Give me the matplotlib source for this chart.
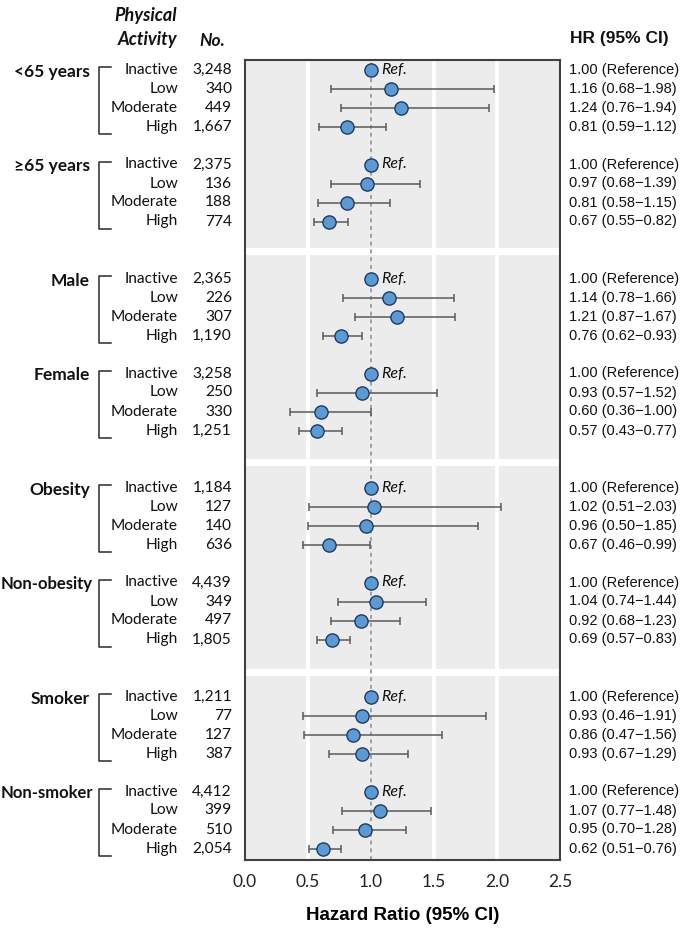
import matplotlib
matplotlib.use("Agg")
import matplotlib.pyplot as plt
from matplotlib.transforms import blended_transform_factory

# ---------------- data ----------------
groups = ["<65 years", "\u226565 years", "Male", "Female",
          "Obesity", "Non-obesity", "Smoker", "Non-smoker"]
levels = ["Inactive", "Low", "Moderate", "High"]
counts = [
    ["3,248", "340", "449", "1,667"],
    ["2,375", "136", "188", "774"],
    ["2,365", "226", "307", "1,190"],
    ["3,258", "250", "330", "1,251"],
    ["1,184", "127", "140", "636"],
    ["4,439", "349", "497", "1,805"],
    ["1,211", "77", "127", "387"],
    ["4,412", "399", "510", "2,054"],
]
hr = [
    [1.00, 1.16, 1.24, 0.81],
    [1.00, 0.97, 0.81, 0.67],
    [1.00, 1.14, 1.21, 0.76],
    [1.00, 0.93, 0.60, 0.57],
    [1.00, 1.02, 0.96, 0.67],
    [1.00, 1.04, 0.92, 0.69],
    [1.00, 0.93, 0.86, 0.93],
    [1.00, 1.07, 0.95, 0.62],
]
lo = [
    [None, 0.68, 0.76, 0.59],
    [None, 0.68, 0.58, 0.55],
    [None, 0.78, 0.87, 0.62],
    [None, 0.57, 0.36, 0.43],
    [None, 0.51, 0.50, 0.46],
    [None, 0.74, 0.68, 0.57],
    [None, 0.46, 0.47, 0.67],
    [None, 0.77, 0.70, 0.51],
]
hi = [
    [None, 1.98, 1.94, 1.12],
    [None, 1.39, 1.15, 0.82],
    [None, 1.66, 1.67, 0.93],
    [None, 1.52, 1.00, 0.77],
    [None, 2.03, 1.85, 0.99],
    [None, 1.44, 1.23, 0.83],
    [None, 1.91, 1.56, 1.29],
    [None, 1.48, 1.28, 0.76],
]
xticks = [0.0, 0.5, 1.0, 1.5, 2.0, 2.5]

# ---------------- layout ----------------
W, H = 684, 933
fig = plt.figure(figsize=(W / 100, H / 100), dpi=100)
ax_left, ax_right, ax_top, ax_bot = 245, 560, 60, 860
ax = fig.add_axes([ax_left / W, 1 - ax_bot / H,
                   (ax_right - ax_left) / W, (ax_bot - ax_top) / H])
ax.set_xlim(0, 2.5)
ax.set_ylim(ax_bot, ax_top)   # y data == pixel row from top
ax.set_facecolor("#ececec")

def row_y(g, r):
    p, k = divmod(g, 2)
    return 70 + 209 * p + 94.5 * k + 19 * r

# white separator bands between panels
for yc in [251, 462, 672]:
    ax.axhspan(yc - 3.5, yc + 3.5, color="white", zorder=1, lw=0)

# vertical white gridlines
for xv in [0.5, 1.5, 2.0]:
    ax.axvline(xv, color="white", lw=2.6, zorder=0.5)
ax.axvline(1.0, color="#a0a0a0", lw=1.4, ls=(0, (2, 2)), zorder=2)

for s in ax.spines.values():
    s.set_color("#404040")
    s.set_linewidth(1.5)
ax.set_yticks([])
ax.set_xticks(xticks)
ax.set_xticklabels([f"{t:.1f}" for t in xticks], fontfamily="Lato",
                   fontsize=12.5, color="#222222")
ax.tick_params(axis="x", length=0, pad=10)
ax.set_xlabel("Hazard Ratio (95% CI)", fontfamily="Liberation Sans",
              fontweight="bold", fontsize=13.5, labelpad=12)

face = "#5b9bd5"
edge = "#1f3a60"
for g in range(8):
    for r in range(4):
        y = row_y(g, r)
        if lo[g][r] is not None:
            ax.errorbar(hr[g][r], y,
                        xerr=[[hr[g][r] - lo[g][r]], [hi[g][r] - hr[g][r]]],
                        fmt="none", ecolor="#5a5a5a", elinewidth=1.1,
                        capsize=2.6, capthick=1.1, zorder=3)
        ax.plot(hr[g][r], y, "o", ms=9.5, mfc=face, mec=edge, mew=1.0,
                zorder=4)
        if lo[g][r] is None:
            ax.text(hr[g][r] + 0.085, y, "Ref.", fontfamily="Lato",
                    fontstyle="italic", fontsize=11.5, va="center",
                    ha="left", color="#111111", zorder=5)

# ---------------- left / right text columns ----------------
tr = blended_transform_factory(fig.transFigure, ax.transData)
fx = lambda px: px / W
lab_font = dict(fontfamily=["Lato", "DejaVu Sans"], fontsize=11.2,
                color="#111111")
for g in range(8):
    y0 = row_y(g, 0)
    y3 = row_y(g, 3)
    long_label = groups[g].startswith("Non-")
    fig.text(fx(93 if long_label else 90), y0 + 2, groups[g], transform=tr,
             ha="right", va="center", fontweight="bold",
             **{**lab_font, "fontsize": 12.0 if long_label else 12.5})
    # bracket
    xb, xe = fx(99), fx(111)
    fig.add_artist(plt.Line2D([xe, xb, xb, xe],
                              [y0 - 3, y0 - 3, y3 + 7, y3 + 7],
                              transform=tr, color="#2a2a2a", lw=1.1))
    for r in range(4):
        y = row_y(g, r)
        fig.text(fx(178), y, levels[r], transform=tr, ha="right",
                 va="center", **lab_font)
        fig.text(fx(232), y, counts[g][r], transform=tr, ha="right",
                 va="center", **lab_font)
        if lo[g][r] is None:
            s = f"{hr[g][r]:.2f} (Reference)"
        else:
            s = f"{hr[g][r]:.2f} ({lo[g][r]:.2f}\u2212{hi[g][r]:.2f})"
        fig.text(fx(569), y, s, transform=tr, ha="left", va="center",
                 fontfamily="Liberation Sans", fontsize=10.5,
                 color="#111111")

# headers
fy = lambda py: 1 - py / H
hdr = dict(fontfamily="Lato", fontweight="bold", fontstyle="italic",
           fontsize=13, color="#111111")
fig.text(fx(177), fy(16), "Physical", ha="right", va="center", **hdr)
fig.text(fx(177), fy(39), "Activity", ha="right", va="center", **hdr)
fig.text(fx(212), fy(41), "No.", ha="center", va="center",
         **{**hdr, "fontsize": 12.5})
fig.text(fx(619), fy(39), "HR (95% CI)", ha="center", va="center",
         fontfamily="Liberation Sans", fontweight="bold", fontsize=12.5,
         color="#111111")

fig.savefig("out.png", dpi=100)
